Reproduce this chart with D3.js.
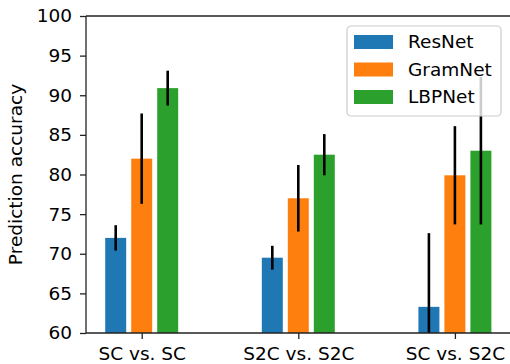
<!DOCTYPE html>
<html>
<head>
<meta charset="utf-8">
<script src="https://cdn.jsdelivr.net/npm/d3@7"></script>
<style>
  body { margin: 0; background: #fff; }
  text { font-family: "DejaVu Sans", sans-serif; fill: #000; }
</style>
</head>
<body>
<svg id="chart" width="510" height="364"></svg>
<script>
// data
var groups = ["SC vs. SC", "S2C vs. S2C", "SC vs. S2C"];
var models = ["ResNet", "GramNet", "LBPNet"];
var colors = ["#1f77b4", "#ff7f0e", "#2ca02c"];
var resnet = [72.0, 69.5, 63.3];
var resnetErr = [1.6, 1.5, 9.3];
var gramnet = [82.0, 77.0, 79.9];
var gramnetErr = [5.7, 4.2, 6.2];
var lbpnet = [90.9, 82.5, 83.0];
var lbpnetErr = [2.2, 2.6, 9.3];
var yTicks = [60, 65, 70, 75, 80, 85, 90, 95, 100];

var series = [resnet, gramnet, lbpnet];
var errs = [resnetErr, gramnetErr, lbpnetErr];

var svg = d3.select("#chart");
var padL = 86, padT = 16, padB = 333;
var fs = 18.5;

var x = d3.scaleLinear().domain([0, 1]).range([141.7, 298.3]);
var y = d3.scaleLinear().domain([60, 100]).range([padB, padT]);
var barW = 0.134, step = 0.166;

svg.append("clipPath").attr("id", "plot")
  .append("rect").attr("x", padL).attr("y", padT)
  .attr("width", 510 - padL).attr("height", padB - padT);

var plot = svg.append("g").attr("clip-path", "url(#plot)");

series.forEach(function (vals, m) {
  var off = (m - 1) * step;
  plot.selectAll("rect.m" + m)
    .data(vals)
    .enter()
    .append("rect")
    .attr("class", "m" + m)
    .attr("x", function (d, i) { return x(i + off - barW / 2); })
    .attr("width", x(barW) - x(0))
    .attr("y", function (d) { return y(d); })
    .attr("height", function (d) { return y(60) - y(d); })
    .attr("fill", colors[m]);
});

series.forEach(function (vals, m) {
  var off = (m - 1) * step;
  plot.selectAll("line.e" + m)
    .data(vals)
    .enter()
    .append("line")
    .attr("class", "e" + m)
    .attr("x1", function (d, i) { return x(i + off); })
    .attr("x2", function (d, i) { return x(i + off); })
    .attr("y1", function (d, i) { return y(d - errs[m][i]); })
    .attr("y2", function (d, i) { return y(d + errs[m][i]); })
    .attr("stroke", "#000")
    .attr("stroke-width", 2.6);
});

// axes
var yAxis = svg.append("g")
  .attr("transform", "translate(" + padL + ",0)")
  .call(d3.axisLeft(y).tickValues(yTicks).tickSize(6).tickPadding(8));
var xAxis = svg.append("g")
  .attr("transform", "translate(0," + padB + ")")
  .call(d3.axisBottom(x).tickValues([0, 1, 2]).tickFormat(function (d) { return groups[d]; })
    .tickSize(6).tickPadding(8));

[yAxis, xAxis].forEach(function (a) {
  a.select(".domain").remove();
  a.selectAll("line").attr("stroke", "#222").attr("stroke-width", 1.3);
  a.selectAll("text").attr("font-size", fs).attr("font-family", "DejaVu Sans").attr("fill", "#000");
});

// spines (left, bottom, top) - right side is cut off in the picture
svg.append("line").attr("x1", padL).attr("x2", padL).attr("y1", padT).attr("y2", padB)
  .attr("stroke", "#222").attr("stroke-width", 1.3);
svg.append("line").attr("x1", padL).attr("x2", 510).attr("y1", padB).attr("y2", padB)
  .attr("stroke", "#222").attr("stroke-width", 1.3);
svg.append("line").attr("x1", padL).attr("x2", 510).attr("y1", padT).attr("y2", padT)
  .attr("stroke", "#222").attr("stroke-width", 1.3);

svg.append("text")
  .attr("transform", "translate(21.5," + ((padT + padB) / 2) + ") rotate(-90)")
  .attr("text-anchor", "middle")
  .attr("font-size", fs)
  .text("Prediction accuracy");

// legend
var lg = svg.append("g").attr("transform", "translate(347,26)");
lg.append("rect")
  .attr("width", 154).attr("height", 90).attr("rx", 4)
  .attr("fill", "#fff").attr("fill-opacity", 0.8)
  .attr("stroke", "#ccc").attr("stroke-width", 1.2);
models.forEach(function (name, i) {
  var cy = 16 + i * 27.5;
  lg.append("rect").attr("x", 7).attr("y", cy - 7).attr("width", 39).attr("height", 14)
    .attr("fill", colors[i]);
  lg.append("text").attr("x", 61).attr("y", cy).attr("dy", "0.35em")
    .attr("font-size", fs).text(name);
});
</script>
</body>
</html>
